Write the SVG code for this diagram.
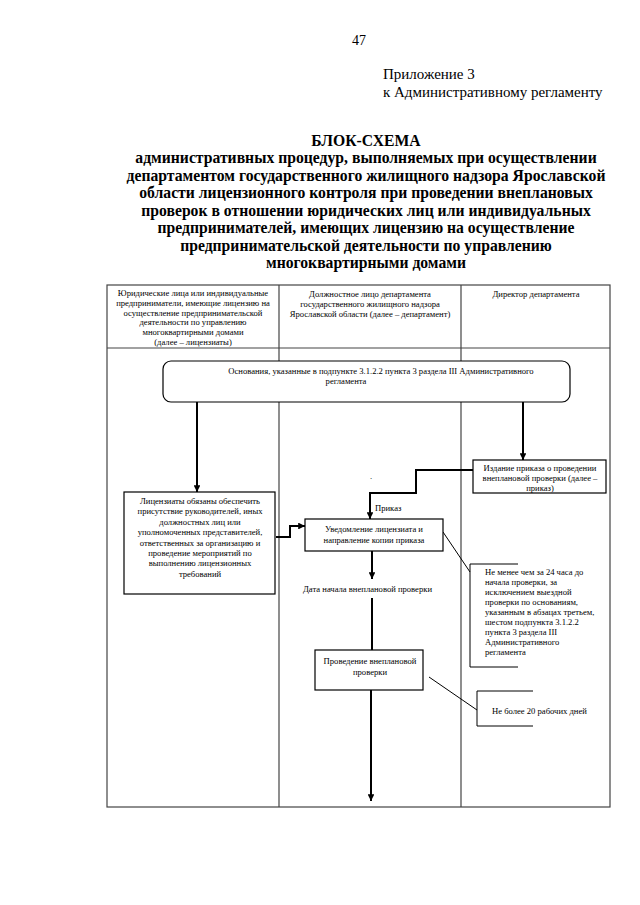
<svg xmlns="http://www.w3.org/2000/svg" width="640" height="905" viewBox="0 0 640 905">
<defs>
<marker id="ah" viewBox="0 0 10 10" refX="10" refY="5" markerWidth="3.4" markerHeight="3.4" orient="auto" markerUnits="strokeWidth">
<path d="M0,0 L10,5 L0,10 z" fill="#000"/>
</marker>
<style>
text{font-family:"Liberation Serif","Times New Roman",serif;fill:#000}
.s{font-size:8.6px}
.c{text-anchor:middle}
.t{font-size:15.7px;font-weight:bold;text-anchor:middle}
.grid{stroke:#444;stroke-width:1.2;fill:none}
.box{fill:#fff;stroke:#000;stroke-width:1.2}
.arr{stroke:#000;stroke-width:2;fill:none;marker-end:url(#ah)}
.ln{stroke:#000;stroke-width:2;fill:none}
.lead{stroke:#000;stroke-width:1;fill:none}
</style>
</defs>
<rect width="640" height="905" fill="#fff"/>
<text x="352" y="45" style="font-size:14px">47</text>
<text x="383" y="79" style="font-size:15px">Приложение 3</text>
<text x="383" y="97" style="font-size:15px">к Административному регламенту</text>
<g id="title">
<text x="366" y="146" class="t">БЛОК-СХЕМА</text>
<text x="366" y="163" class="t">административных процедур, выполняемых при осуществлении</text>
<text x="366" y="181" class="t">департаментом государственного жилищного надзора Ярославской</text>
<text x="366" y="198" class="t">области лицензионного контроля при проведении внеплановых</text>
<text x="366" y="216" class="t">проверок в отношении юридических лиц или индивидуальных</text>
<text x="366" y="233" class="t">предпринимателей, имеющих лицензию на осуществление</text>
<text x="366" y="251" class="t">предпринимательской деятельности по управлению</text>
<text x="366" y="268" class="t">многоквартирными домами</text>
</g>
<g id="table">
<rect x="107" y="285" width="503" height="522" class="grid"/>
<line x1="107" y1="348" x2="610" y2="348" class="grid"/>
<line x1="279" y1="285" x2="279" y2="807" class="grid"/>
<line x1="461" y1="285" x2="461" y2="807" class="grid"/>
</g>
<g id="header1">
<text x="193" y="296" class="s c">Юридические лица или индивидуальные</text>
<text x="193" y="306" class="s c">предприниматели, имеющие лицензию на</text>
<text x="193" y="316" class="s c">осуществление предпринимательской</text>
<text x="193" y="325" class="s c">деятельности по управлению</text>
<text x="193" y="335" class="s c">многоквартирными домами</text>
<text x="193" y="345" class="s c">(далее – лицензиаты)</text>
</g>
<g id="header2">
<text x="370" y="297" class="s c">Должностное лицо департамента</text>
<text x="370" y="307" class="s c">государственного жилищного надзора</text>
<text x="370" y="317" class="s c">Ярославской области (далее – департамент)</text>
</g>
<g id="header3">
<text x="536" y="297" class="s c">Директор департамента</text>
</g>
<g id="connectors">
<line x1="197" y1="402" x2="197" y2="492" class="arr"/>
<line x1="523" y1="402" x2="523" y2="460" class="arr"/>
<polyline points="473,470 416,470 416,493 370,493 370,519" class="arr"/>
<polyline points="276,537 290,537 290,526 305,526" class="arr"/>
<line x1="372" y1="551" x2="372" y2="579" class="arr"/>
<line x1="372" y1="598" x2="372" y2="650" class="ln"/>
<line x1="371" y1="690" x2="371" y2="801" class="arr"/>
<line x1="443" y1="532" x2="470" y2="572" class="lead"/>
<line x1="429" y1="677" x2="477" y2="710" class="lead"/>
</g>
<g id="basis">
<rect x="163" y="361" width="407" height="41" rx="8" ry="8" class="box"/>
<text x="381" y="374" class="s c">Основания, указанные в подпункте 3.1.2.2 пункта 3 раздела III Административного</text>
<text x="346" y="384" class="s c">регламента</text>
</g>
<g id="licensees">
<rect x="124" y="492" width="151" height="102" class="box"/>
<text x="200" y="504" class="s c">Лицензиаты обязаны обеспечить</text>
<text x="200" y="514" class="s c">присутствие руководителей, иных</text>
<text x="200" y="525" class="s c">должностных лиц или</text>
<text x="200" y="535" class="s c">уполномоченных представителей,</text>
<text x="200" y="546" class="s c">ответственных за организацию и</text>
<text x="200" y="556" class="s c">проведение мероприятий по</text>
<text x="200" y="566" class="s c">выполнению лицензионных</text>
<text x="200" y="577" class="s c">требований</text>
</g>
<g id="order">
<rect x="473" y="460" width="133" height="33" class="box"/>
<text x="540" y="471" class="s c">Издание приказа о проведении</text>
<text x="540" y="481" class="s c">внеплановой проверки (далее –</text>
<text x="540" y="491" class="s c">приказ)</text>
</g>
<text x="370" y="479" class="s">.</text>
<text x="375" y="511" class="s">Приказ</text>
<g id="notify">
<rect x="305" y="519" width="138" height="32" class="box"/>
<text x="374" y="532" class="s c">Уведомление лицензиата и</text>
<text x="374" y="543" class="s c">направление копии приказа</text>
</g>
<text x="303" y="592" class="s">Дата начала внеплановой проверки</text>
<g id="note24">
<polyline points="518,564 470,564 470,667 518,667" class="lead"/>
<text x="485" y="575" class="s">Не менее чем за 24 часа до</text>
<text x="485" y="585" class="s">начала проверки, за</text>
<text x="485" y="595" class="s">исключением выездной</text>
<text x="485" y="605" class="s">проверки по основаниям,</text>
<text x="485" y="615" class="s">указанным в абзацах третьем,</text>
<text x="485" y="625" class="s">шестом  подпункта 3.1.2.2</text>
<text x="485" y="635" class="s">пункта 3 раздела III</text>
<text x="485" y="645" class="s">Административного</text>
<text x="485" y="655" class="s">регламента</text>
</g>
<g id="inspection">
<rect x="315" y="650" width="108" height="40" class="box"/>
<text x="370" y="664" class="s c">Проведение внеплановой</text>
<text x="370" y="675" class="s c">проверки</text>
</g>
<g id="note20">
<polyline points="533,691 477,691 477,726 533,726" class="lead"/>
<text x="492" y="714" class="s">Не более 20 рабочих дней</text>
</g>
</svg>
